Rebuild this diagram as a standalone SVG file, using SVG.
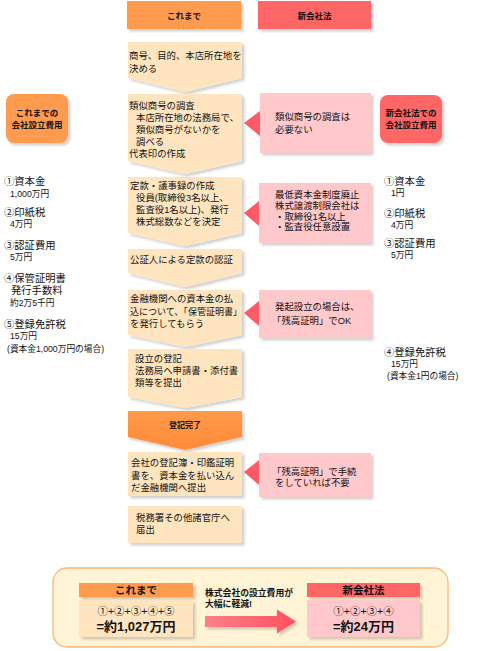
<svg xmlns="http://www.w3.org/2000/svg" width="500" height="651" viewBox="0 0 500 651">
<defs>
<filter id="sh" x="-10%" y="-10%" width="125%" height="125%">
<feDropShadow dx="2.5" dy="2.5" stdDeviation="1" flood-color="#000" flood-opacity="0.18"/>
</filter>
<linearGradient id="og" x1="0" y1="0" x2="0" y2="1">
<stop offset="0" stop-color="#FF9A4A"/><stop offset="1" stop-color="#FF8A38"/>
</linearGradient>
<linearGradient id="ag" x1="0" y1="0" x2="1" y2="0">
<stop offset="0" stop-color="#FF8088"/><stop offset="1" stop-color="#FF5060"/>
</linearGradient>
</defs>
<style>
text{font-family:"Liberation Sans","Noto Sans CJK JP",sans-serif;fill:#111}
.t{font-size:9.4px}
.b{font-weight:bold}
.cream{fill:#FEE5BF}
.pink{fill:#FFC8CA}
.tri{fill:#FF5A68}
.hor{fill:#FF9B50}
.hred{fill:#FF6666}
.h{font-size:10.3px}
.a{font-size:8.7px}
.c{text-anchor:middle}
</style>
<rect width="500" height="651" fill="#fff"/>

<g id="header-kore">
<rect x="127" y="1" width="114" height="28" class="hor" filter="url(#sh)"/>
<text x="184" y="18.5" class="b c" font-size="8.5">これまで</text>
</g>
<g id="header-shin">
<rect x="258" y="1" width="113" height="28" class="hred" filter="url(#sh)"/>
<text x="314.5" y="18.5" class="b c" font-size="8.5">新会社法</text>
</g>

<g id="cost-left">
<rect x="6" y="94" width="62" height="49" rx="8" class="hor" filter="url(#sh)"/>
<text class="b c" font-size="8.5"><tspan x="37" y="116">これまでの</tspan><tspan x="37" y="127.5">会社設立費用</tspan></text>
</g>
<g id="cost-right">
<rect x="380" y="95" width="62" height="48" rx="8" class="hred" filter="url(#sh)"/>
<text class="b c" font-size="8.5"><tspan x="411" y="116">新会社法での</tspan><tspan x="411" y="127.5">会社設立費用</tspan></text>
</g>

<g id="list-left">
<text><tspan x="4" y="185" class="h">①資本金</tspan><tspan x="10" y="196.5" class="a">1,000万円</tspan></text>
<text><tspan x="4" y="216" class="h">②印紙税</tspan><tspan x="10" y="227" class="a">4万円</tspan></text>
<text><tspan x="4" y="249" class="h">③認証費用</tspan><tspan x="10" y="260" class="a">5万円</tspan></text>
<text><tspan x="4" y="282" class="h">④保管証明書</tspan><tspan x="11" y="294" class="h">発行手数料</tspan><tspan x="10" y="305.5" class="a">約2万5千円</tspan></text>
<text><tspan x="4" y="328" class="h">⑤登録免許税</tspan><tspan x="10" y="339" class="a">15万円</tspan><tspan x="7" y="351.5" class="a">(資本金1,000万円の場合)</tspan></text>
</g>

<g id="list-right">
<text><tspan x="384" y="184.5" class="h">①資本金</tspan><tspan x="391" y="196" class="a">1円</tspan></text>
<text><tspan x="384" y="216.5" class="h">②印紙税</tspan><tspan x="391" y="227.5" class="a">4万円</tspan></text>
<text><tspan x="384" y="247" class="h">③認証費用</tspan><tspan x="391" y="257.5" class="a">5万円</tspan></text>
<text><tspan x="384" y="355.5" class="h">④登録免許税</tspan><tspan x="391" y="366.5" class="a">15万円</tspan><tspan x="387" y="379" class="a">(資本金1円の場合)</tspan></text>
</g>

<g id="step1">
<path d="M128,42 H242 V78 L185,92 L128,78 Z" class="cream" filter="url(#sh)"/>
<text class="t"><tspan x="129" y="58.5">商号、目的、本店所在地を</tspan><tspan x="129" y="71.5">決める</tspan></text>
</g>
<g id="step2">
<path d="M128,94 H242 V161 L185,174 L128,161 Z" class="cream" filter="url(#sh)"/>
<text class="t"><tspan x="129" y="108.5">類似商号の調査</tspan><tspan x="136" y="120.5">本店所在地の法務局で、</tspan><tspan x="136" y="132.5">類似商号がないかを</tspan><tspan x="136" y="144.5">調べる</tspan><tspan x="129" y="156.5">代表印の作成</tspan></text>
</g>
<g id="step3">
<path d="M128,177 H242 V233 L185,246 L128,233 Z" class="cream" filter="url(#sh)"/>
<text class="t"><tspan x="130" y="188.5">定款・議事録の作成</tspan><tspan x="136" y="200.5">役員(取締役3名以上、</tspan><tspan x="136" y="212.5">監査役1名以上)、発行</tspan><tspan x="136" y="224.5">株式総数などを決定</tspan></text>
</g>
<g id="step4">
<path d="M128,249 H242 V273 L185,287 L128,273 Z" class="cream" filter="url(#sh)"/>
<text x="130" y="263" class="t">公証人による定款の認証</text>
</g>
<g id="step5">
<path d="M128,290 H242 V335 L185,347 L128,335 Z" class="cream" filter="url(#sh)"/>
<text class="t"><tspan x="130" y="302">金融機関への資本金の払</tspan><tspan x="130" y="314.5" textLength="112" lengthAdjust="spacingAndGlyphs">込について、「保管証明書」</tspan><tspan x="130" y="327">を発行してもらう</tspan></text>
</g>
<g id="step6">
<path d="M128,349 H242 V397 L185,408 L128,397 Z" class="cream" filter="url(#sh)"/>
<text class="t"><tspan x="135" y="362">設立の登記</tspan><tspan x="135" y="374">法務局へ申請書・添付書</tspan><tspan x="135" y="386">類等を提出</tspan></text>
</g>
<g id="step-done">
<path d="M128,411 H242 V437 L185,450 L128,437 Z" fill="url(#og)" filter="url(#sh)"/>
<text x="185" y="428" class="b c" font-size="8">登記完了</text>
</g>
<g id="step7">
<rect x="128" y="452" width="114" height="44" class="cream" filter="url(#sh)"/>
<text class="t"><tspan x="131" y="466">会社の登記簿・印鑑証明</tspan><tspan x="131" y="478.5">書を、資本金を払い込ん</tspan><tspan x="131" y="490.5">だ金融機関へ提出</tspan></text>
</g>
<g id="step8">
<rect x="128" y="506" width="114" height="37" class="cream" filter="url(#sh)"/>
<text class="t"><tspan x="136" y="520.5">税務署その他諸官庁へ</tspan><tspan x="136" y="533">届出</tspan></text>
</g>

<g id="note1">
<rect x="260" y="93" width="111" height="60" class="pink" filter="url(#sh)"/>
<text class="t"><tspan x="275" y="119.5">類似商号の調査は</tspan><tspan x="275" y="132.5">必要ない</tspan></text>
</g>
<g id="note2">
<rect x="259" y="183" width="112" height="60" class="pink" filter="url(#sh)"/>
<text class="t"><tspan x="275" y="198">最低資本金制度廃止</tspan><tspan x="275" y="208.8">株式譲渡制限会社は</tspan><tspan x="275" y="219.6">・取締役1名以上</tspan><tspan x="275" y="230.4">・監査役任意設置</tspan></text>
</g>
<g id="note3">
<rect x="259" y="290" width="112" height="48" class="pink" filter="url(#sh)"/>
<text class="t"><tspan x="275" y="310">発起設立の場合は、</tspan><tspan x="272" y="323.5">「残高証明」でOK</tspan></text>
</g>
<g id="note4">
<rect x="259" y="453" width="112" height="44" class="pink" filter="url(#sh)"/>
<text class="t"><tspan x="272" y="474.5">「残高証明」で手続</tspan><tspan x="275" y="486">をしていれば不要</tspan></text>
</g>

<g id="connectors">
<path d="M244,123 L260,111 V136 Z" class="tri"/>
<path d="M244,213 L259,201 V226 Z" class="tri"/>
<path d="M244,313 L259,301 V326 Z" class="tri"/>
<path d="M244,472 L259,460 V485 Z" class="tri"/>
</g>

<g id="summary">
<rect x="53" y="568" width="395" height="79" rx="14" fill="#FFF4D6" stroke="#FFB677" stroke-width="1.3"/>
<rect x="79" y="583" width="114" height="14" class="hor" filter="url(#sh)"/>
<text x="136" y="594" class="b c" font-size="10.5">これまで</text>
<rect x="79" y="600" width="114" height="37" class="cream" filter="url(#sh)"/>
<text class="c"><tspan x="136" y="615" font-size="10.5">①+②+③+④+⑤</tspan><tspan x="136" y="631" class="b" font-size="13">=約1,027万円</tspan></text>
<text class="b" font-size="8.8"><tspan x="205" y="596">株式会社の設立費用が</tspan><tspan x="205" y="606.5">大幅に軽減!</tspan></text>
<path d="M205,616 H277 V609.5 L296,621.5 L277,633.5 V627 H205 Z" fill="url(#ag)" filter="url(#sh)"/>
<rect x="307" y="583" width="113" height="14" class="hred" filter="url(#sh)"/>
<text x="363.5" y="594" class="b c" font-size="10.5">新会社法</text>
<rect x="307" y="600" width="113" height="37" class="pink" filter="url(#sh)"/>
<text class="c"><tspan x="363.5" y="615" font-size="10.5">①+②+③+④</tspan><tspan x="363.5" y="631" class="b" font-size="13">=約24万円</tspan></text>
</g>
</svg>
